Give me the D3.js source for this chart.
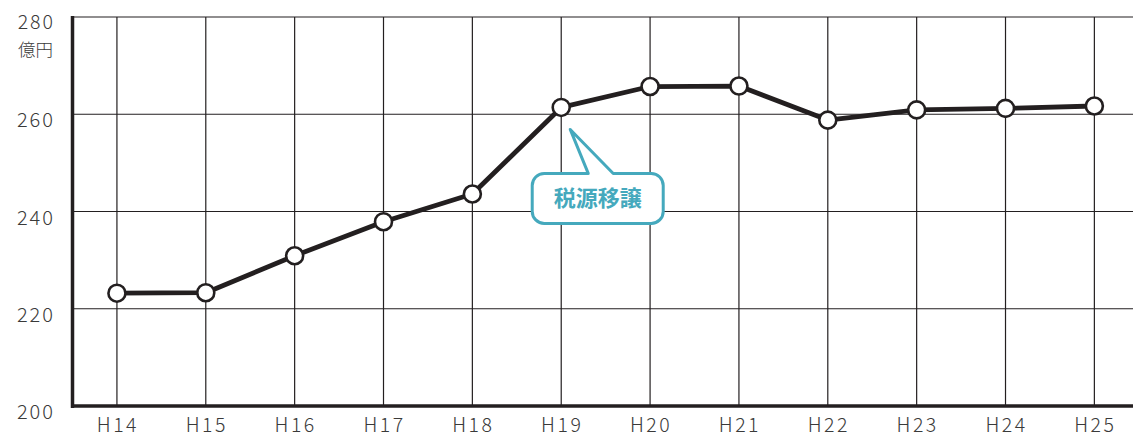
<!DOCTYPE html>
<html>
<head>
<meta charset="utf-8">
<script src="https://cdn.jsdelivr.net/npm/d3@7"></script>
<style>
  html, body { margin: 0; padding: 0; background: #fff; }
  svg { display: block; }
  text { font-family: "Noto Sans CJK JP", "Noto Sans", sans-serif; }
</style>
</head>
<body>
<svg id="chart" width="1133" height="438"></svg>
<script>
// Fiscal years (Heisei era) and amounts in 100 million yen
const years = ["H14", "H15", "H16", "H17", "H18", "H19", "H20", "H21", "H22", "H23", "H24", "H25"];
const amounts = [223.2, 223.3, 230.9, 237.9, 243.6, 261.4, 265.7, 265.8, 258.8, 260.9, 261.2, 261.7];
const yTicks = [200, 220, 240, 260, 280];
const unitLabel = "億円";
const noteLabel = "税源移譲";
const noteYear = "H19";

(function draw() {
  const ink = "#231f20";
  const teal = "#45a9bd";
  const labelInk = "#3a3a3a";

  const svg = d3.select("#chart");
  const W = 1133;
  const plotLeft = 72.5, plotTop = 17, plotBottom = 406;

  const x = d3.scaleBand().domain(years).range([plotLeft, 1138.8]);
  const cx = d => x(d) + x.bandwidth() / 2;
  const y = d3.scaleLinear().domain([200, 280]).range([plotBottom, plotTop]);

  // horizontal grid lines
  svg.append("g").selectAll("line").data(yTicks.filter(t => t > 200)).join("line")
    .attr("x1", plotLeft).attr("x2", W)
    .attr("y1", d => y(d)).attr("y2", d => y(d))
    .attr("stroke", ink).attr("stroke-width", 1.2);

  // vertical grid lines
  svg.append("g").selectAll("line").data(years).join("line")
    .attr("x1", d => cx(d)).attr("x2", d => cx(d))
    .attr("y1", plotTop).attr("y2", plotBottom)
    .attr("stroke", ink).attr("stroke-width", 1.2);

  // y axis labels
  svg.append("g").selectAll("text").data(yTicks).join("text")
    .attr("x", 55).attr("y", d => y(d) + (d === 280 ? 12 : 13))
    .attr("text-anchor", "end")
    .attr("font-size", d => d === 280 ? 19.5 : 20).attr("font-weight", 300)
    .attr("letter-spacing", 2)
    .attr("fill", labelInk)
    .text(d => d);

  // unit below the top tick label
  svg.append("text")
    .attr("x", 53).attr("y", y(280) + 38.5)
    .attr("text-anchor", "end")
    .attr("font-size", 17.5).attr("font-weight", 300)
    .attr("fill", labelInk)
    .text(unitLabel);

  // x axis labels
  svg.append("g").selectAll("text").data(years).join("text")
    .attr("x", d => cx(d) + 1).attr("y", 432)
    .attr("text-anchor", "middle")
    .attr("font-size", 19.5).attr("font-weight", 300)
    .attr("letter-spacing", 2.5)
    .attr("fill", labelInk)
    .text(d => d);

  // axis lines (thick)
  svg.append("line")
    .attr("x1", plotLeft).attr("x2", plotLeft).attr("y1", plotTop - 1).attr("y2", plotBottom + 2)
    .attr("stroke", ink).attr("stroke-width", 3.5);
  svg.append("line")
    .attr("x1", plotLeft - 1.5).attr("x2", W).attr("y1", plotBottom).attr("y2", plotBottom)
    .attr("stroke", ink).attr("stroke-width", 3.5);

  // data line
  const pts = years.map((k, i) => [cx(k), y(amounts[i])]);
  svg.append("path")
    .attr("d", d3.line()(pts))
    .attr("fill", "none")
    .attr("stroke", ink)
    .attr("stroke-width", 4.8)
    .attr("stroke-linejoin", "round");

  svg.append("g").selectAll("circle").data(pts).join("circle")
    .attr("cx", d => d[0]).attr("cy", d => d[1])
    .attr("r", 8.5)
    .attr("fill", "#fff")
    .attr("stroke", ink)
    .attr("stroke-width", 2.6);

  // callout pointing at the tax-source transfer year
  const i19 = years.indexOf(noteYear);
  const px = pts[i19][0], py = pts[i19][1];
  const tip = [px + 9, py + 22];
  const bx0 = px - 29, bx1 = px + 102, by0 = py + 66, by1 = py + 116, r = 12;
  const tb0 = px + 27, tb1 = px + 52;
  const p = d3.path();
  p.moveTo(bx0 + r, by0);
  p.lineTo(tb0, by0);
  p.lineTo(tip[0], tip[1]);
  p.lineTo(tb1, by0);
  p.lineTo(bx1 - r, by0);
  p.arcTo(bx1, by0, bx1, by0 + r, r);
  p.lineTo(bx1, by1 - r);
  p.arcTo(bx1, by1, bx1 - r, by1, r);
  p.lineTo(bx0 + r, by1);
  p.arcTo(bx0, by1, bx0, by1 - r, r);
  p.lineTo(bx0, by0 + r);
  p.arcTo(bx0, by0, bx0 + r, by0, r);
  p.closePath();
  svg.append("path")
    .attr("d", p.toString())
    .attr("fill", "#fff")
    .attr("stroke", teal)
    .attr("stroke-width", 3)
    .attr("stroke-linejoin", "round");

  svg.append("text")
    .attr("x", (bx0 + bx1) / 2).attr("y", (by0 + by1) / 2 + 8)
    .attr("text-anchor", "middle")
    .attr("font-size", 22).attr("font-weight", 700)
    .attr("fill", teal)
    .text(noteLabel);
})();
</script>
</body>
</html>
